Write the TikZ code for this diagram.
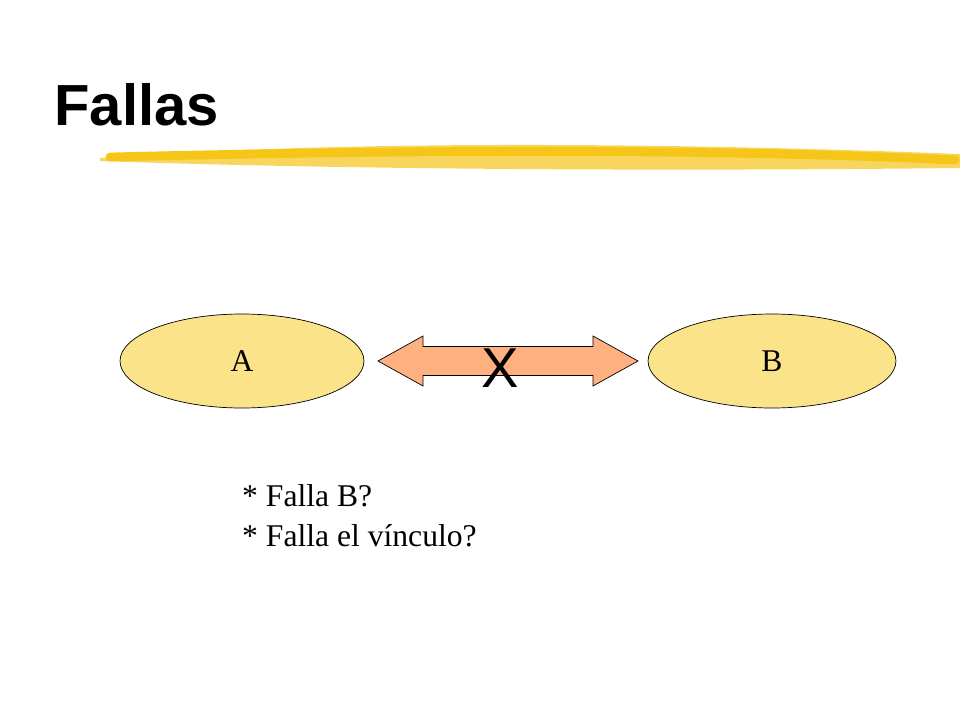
\documentclass[tikz,border=0pt]{standalone}
\usepackage{fontspec}
\setmainfont{Liberation Serif}
\setsansfont{Liberation Sans}
\usetikzlibrary{calc,shapes.geometric}
\definecolor{nodefill}{HTML}{FBE38A}
\definecolor{arrowfill}{HTML}{FFB080}
\definecolor{brush}{HTML}{F5C518}
\tikzset{
  site/.style={ellipse,draw=black,thin,fill=nodefill,inner sep=0pt,font=\fontsize{18}{20}\selectfont},
  remark/.style={anchor=north west,align=left,font=\fontsize{18}{23}\selectfont}
}
\begin{document}
\begin{tikzpicture}[x=0.02cm,y=-0.02cm]
\useasboundingbox (0,0) rectangle (960,720);

% title and brush stroke
\node[anchor=base west,inner sep=0pt,font=\sffamily\bfseries\fontsize{33}{36}\selectfont] (title) at (54,125) {Fallas};
\fill[brush!70] (100,158) .. controls (300,143) and (600,140) .. (960,154) -- (960,168) .. controls (600,172) and (300,168) .. (100,161) -- cycle;
\draw[brush,line width=5pt,line cap=round] (110,157) .. controls (400,150) and (700,148) .. (955,160);

% sites
\node[site,minimum width=4.88cm,minimum height=1.88cm] (A) at (242,361) {A};
\node[site,minimum width=4.96cm,minimum height=1.88cm] (B) at (772,361) {B};

% link
\coordinate (L) at (378,361);
\coordinate (R) at (638,361);
\pgfmathsetmacro{\head}{45}
\pgfmathsetmacro{\shaft}{14.5}
\pgfmathsetmacro{\wing}{25}
\draw[fill=arrowfill,thin] (L) -- ($(L)+(\head,-\wing)$) -- ($(L)+(\head,-\shaft)$) -- ($(R)+(-\head,-\shaft)$)
  -- ($(R)+(-\head,-\wing)$) -- (R) -- ($(R)+(-\head,\wing)$) -- ($(R)+(-\head,\shaft)$)
  -- ($(L)+(\head,\shaft)$) -- ($(L)+(\head,\wing)$) -- cycle;
\node[font=\sffamily\fontsize{32}{34}\selectfont] (cut) at (500,368) {X};

% questions
\node[remark] (q) at (236,478) {* Falla B?\\* Falla el vínculo?};
\end{tikzpicture}
\end{document}
